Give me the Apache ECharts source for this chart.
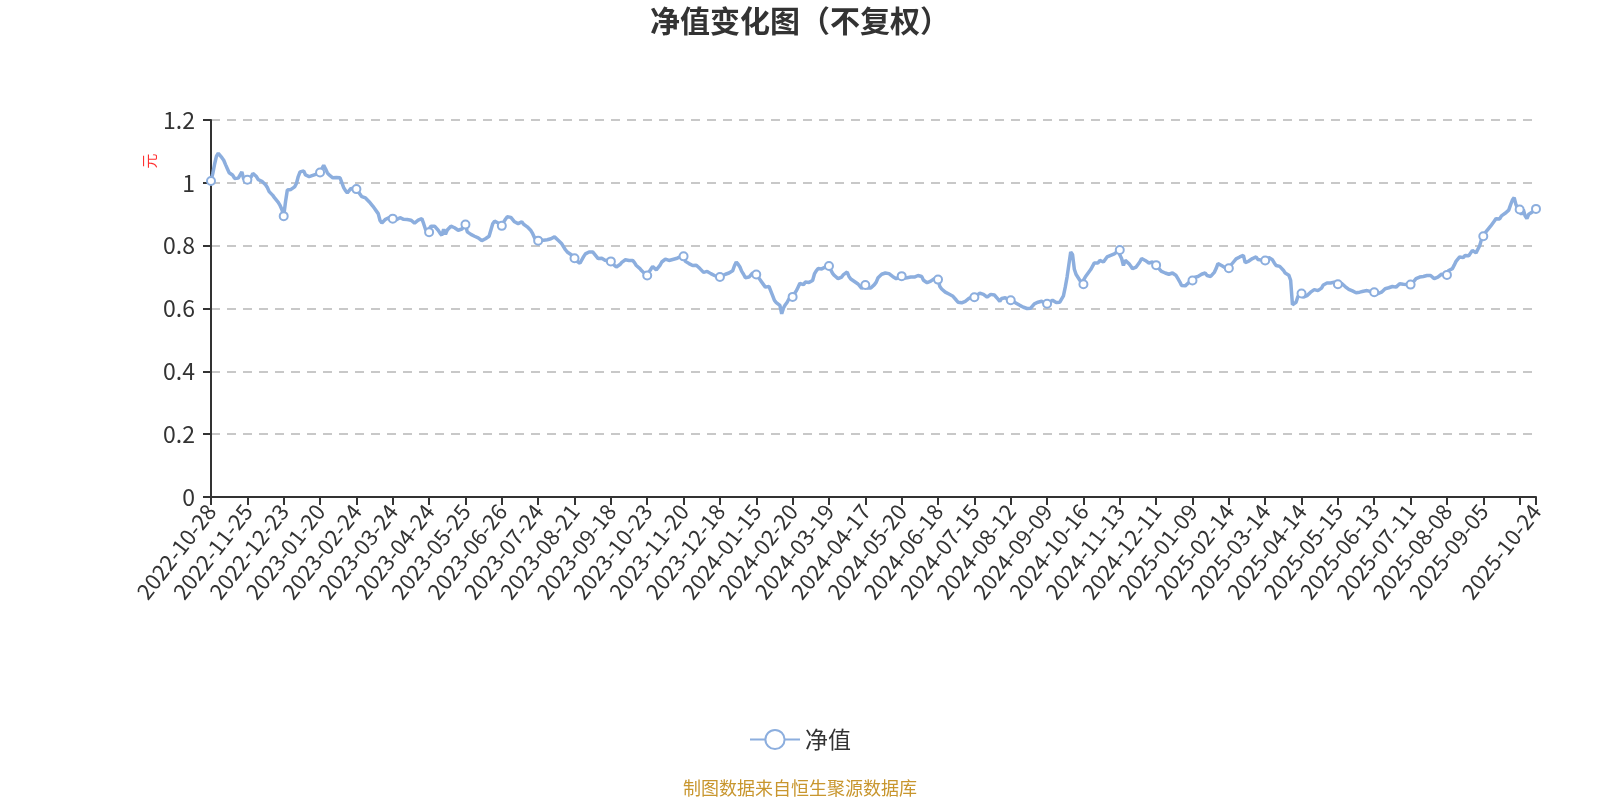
<!DOCTYPE html>
<html>
<head>
<meta charset="utf-8">
<title>净值变化图（不复权）</title>
<script src="https://cdn.jsdelivr.net/npm/echarts@6/dist/echarts.min.js"></script>
<style>
html, body { margin: 0; padding: 0; background: #fff; }
#main { width: 1600px; height: 800px; }
</style>
</head>
<body>
<div id="main"></div>
<script>
var myChart = echarts.init(document.getElementById('main'));

// trading calendar: weekdays between first and last day, minus exchange holidays,
// plus the period-end dates the fund also published a value for
var firstDay = '2022-10-28';
var lastDay = '2025-10-24';
var holidays = [
    '2023-01-02', '2023-01-23', '2023-01-24', '2023-01-25', '2023-01-26', '2023-01-27',
    '2023-04-05', '2023-05-01', '2023-05-02', '2023-05-03', '2023-06-22', '2023-06-23',
    '2023-09-29', '2023-10-02', '2023-10-03', '2023-10-04', '2023-10-05', '2023-10-06',
    '2024-01-01', '2024-02-09', '2024-02-12', '2024-02-13', '2024-02-14', '2024-02-15',
    '2024-02-16', '2024-04-04', '2024-04-05', '2024-05-01', '2024-05-02', '2024-05-03',
    '2024-06-10', '2024-09-16', '2024-09-17', '2024-10-01', '2024-10-02', '2024-10-03',
    '2024-10-04', '2024-10-07',
    '2025-01-01', '2025-01-28', '2025-01-29', '2025-01-30', '2025-01-31', '2025-02-03',
    '2025-02-04', '2025-04-04', '2025-05-01', '2025-05-02', '2025-05-05', '2025-06-02',
    '2025-10-01', '2025-10-02', '2025-10-03', '2025-10-06', '2025-10-07', '2025-10-08'
];
var extraDays = ['2022-12-31', '2023-09-30', '2023-12-31', '2024-03-31', '2024-06-30'];

// 单位净值（元）
var navValues = [
    1.006, 1.030, 1.060, 1.085, 1.094, 1.090, 1.080, 1.072, 1.058, 1.045,
    1.032, 1.028, 1.024, 1.014, 1.008, 1.015, 1.020, 1.035, 1.012, 1.010,
    1.010, 1.012, 1.018, 1.030, 1.036, 1.020, 1.010, 1.008, 1.005, 1.000,
    0.994, 0.985, 0.972, 0.966, 0.960, 0.952, 0.945, 0.938, 0.928, 0.915,
    0.894, 0.940, 0.977, 0.978, 0.979, 0.982, 0.987, 0.998, 1.020, 1.035,
    1.040, 1.038, 1.025, 1.022, 1.020, 1.019, 1.024, 1.030, 1.028, 1.031,
    1.033, 1.045, 1.056, 1.045, 1.032, 1.025, 1.019, 1.016, 1.014, 1.017,
    1.019, 1.016, 1.012, 0.985, 0.975, 0.968, 0.972, 0.982, 0.980, 0.978,
    0.980, 0.972, 0.966, 0.956, 0.950, 0.952, 0.947, 0.940, 0.934, 0.926,
    0.918, 0.910, 0.902, 0.880, 0.872, 0.878, 0.884, 0.887, 0.889, 0.887,
    0.886, 0.884, 0.883, 0.886, 0.889, 0.891, 0.884, 0.879, 0.883, 0.884,
    0.881, 0.876, 0.872, 0.876, 0.881, 0.884, 0.886, 0.870, 0.852, 0.845,
    0.843, 0.862, 0.865, 0.862, 0.856, 0.849, 0.840, 0.833, 0.852, 0.836,
    0.850, 0.856, 0.862, 0.860, 0.857, 0.852, 0.849, 0.850, 0.853, 0.860,
    0.867, 0.844, 0.838, 0.836, 0.833, 0.830, 0.828, 0.825, 0.822, 0.816,
    0.812, 0.822, 0.828, 0.830, 0.850, 0.870, 0.878, 0.883, 0.872, 0.866,
    0.863, 0.875, 0.884, 0.892, 0.897, 0.890, 0.883, 0.876, 0.873, 0.870,
    0.873, 0.876, 0.868, 0.865, 0.860, 0.855, 0.848, 0.838, 0.825, 0.816,
    0.816, 0.818, 0.819, 0.817, 0.817, 0.819, 0.820, 0.822, 0.825, 0.828,
    0.822, 0.817, 0.811, 0.806, 0.796, 0.787, 0.780, 0.776, 0.772, 0.765,
    0.760, 0.752, 0.748, 0.744, 0.740, 0.765, 0.774, 0.778, 0.780, 0.782,
    0.780, 0.774, 0.766, 0.759, 0.762, 0.760, 0.755, 0.753, 0.759, 0.754,
    0.750, 0.742, 0.736, 0.732, 0.736, 0.740, 0.747, 0.751, 0.755, 0.756,
    0.753, 0.753, 0.753, 0.746, 0.737, 0.732, 0.727, 0.720, 0.715, 0.709,
    0.705, 0.716, 0.725, 0.734, 0.728, 0.723, 0.730, 0.737, 0.748, 0.753,
    0.757, 0.759, 0.753, 0.755, 0.756, 0.757, 0.759, 0.761, 0.764, 0.765,
    0.766, 0.750, 0.746, 0.743, 0.740, 0.737, 0.740, 0.738, 0.734, 0.727,
    0.721, 0.715, 0.713, 0.718, 0.715, 0.711, 0.708, 0.705, 0.703, 0.700,
    0.700, 0.703, 0.705, 0.709, 0.711, 0.713, 0.708, 0.720, 0.736, 0.748,
    0.741, 0.732, 0.718, 0.709, 0.698, 0.695, 0.700, 0.704, 0.713, 0.710,
    0.708, 0.700, 0.692, 0.684, 0.676, 0.668, 0.673, 0.670, 0.666, 0.641,
    0.626, 0.619, 0.614, 0.610, 0.583, 0.602, 0.612, 0.620, 0.631, 0.634,
    0.637, 0.647, 0.656, 0.668, 0.680, 0.674, 0.676, 0.684, 0.684, 0.683,
    0.686, 0.689, 0.710, 0.720, 0.727, 0.727, 0.726, 0.730, 0.732, 0.733,
    0.735, 0.723, 0.712, 0.705, 0.699, 0.695, 0.697, 0.700, 0.708, 0.713,
    0.716, 0.702, 0.694, 0.689, 0.686, 0.684, 0.678, 0.671, 0.664, 0.666,
    0.675, 0.665, 0.663, 0.665, 0.668, 0.676, 0.684, 0.698, 0.704, 0.709,
    0.711, 0.713, 0.712, 0.711, 0.706, 0.702, 0.698, 0.695, 0.698, 0.701,
    0.703, 0.696, 0.695, 0.698, 0.699, 0.700, 0.700, 0.700, 0.703, 0.705,
    0.704, 0.702, 0.690, 0.684, 0.682, 0.681, 0.687, 0.690, 0.695, 0.693,
    0.692, 0.670, 0.662, 0.657, 0.652, 0.647, 0.646, 0.645, 0.640, 0.636,
    0.627, 0.620, 0.617, 0.618, 0.620, 0.623, 0.626, 0.632, 0.638, 0.637,
    0.636, 0.641, 0.646, 0.649, 0.647, 0.645, 0.640, 0.636, 0.642, 0.645,
    0.641, 0.643, 0.645, 0.630, 0.623, 0.632, 0.636, 0.634, 0.630, 0.627,
    0.626, 0.624, 0.620, 0.617, 0.613, 0.610, 0.606, 0.604, 0.601, 0.600,
    0.599, 0.601, 0.606, 0.615, 0.618, 0.620, 0.622, 0.623, 0.619, 0.616,
    0.615, 0.620, 0.624, 0.626, 0.621, 0.619, 0.617, 0.620, 0.626, 0.640,
    0.668, 0.700, 0.740, 0.780, 0.772, 0.725, 0.708, 0.705, 0.690, 0.680,
    0.677, 0.700, 0.708, 0.716, 0.724, 0.730, 0.745, 0.751, 0.745, 0.753,
    0.750, 0.748, 0.756, 0.764, 0.766, 0.769, 0.772, 0.774, 0.779, 0.783,
    0.786, 0.759, 0.737, 0.753, 0.748, 0.743, 0.735, 0.727, 0.730, 0.732,
    0.740, 0.748, 0.759, 0.756, 0.753, 0.749, 0.745, 0.747, 0.748, 0.742,
    0.738, 0.730, 0.727, 0.718, 0.716, 0.713, 0.711, 0.709, 0.711, 0.713,
    0.709, 0.705, 0.695, 0.685, 0.673, 0.668, 0.672, 0.677, 0.683, 0.687,
    0.689, 0.699, 0.701, 0.702, 0.706, 0.709, 0.712, 0.713, 0.705, 0.700,
    0.702, 0.705, 0.715, 0.727, 0.743, 0.740, 0.737, 0.733, 0.730, 0.727,
    0.728, 0.737, 0.744, 0.750, 0.758, 0.760, 0.764, 0.766, 0.769, 0.746,
    0.748, 0.751, 0.755, 0.759, 0.762, 0.764, 0.756, 0.755, 0.754, 0.753,
    0.753, 0.759, 0.762, 0.758, 0.755, 0.745, 0.737, 0.735, 0.734, 0.728,
    0.722, 0.713, 0.708, 0.706, 0.690, 0.612, 0.606, 0.620, 0.638, 0.645,
    0.648, 0.636, 0.638, 0.641, 0.646, 0.652, 0.657, 0.660, 0.658, 0.657,
    0.661, 0.665, 0.675, 0.679, 0.681, 0.680, 0.681, 0.687, 0.684, 0.678,
    0.677, 0.678, 0.680, 0.674, 0.670, 0.666, 0.661, 0.657, 0.656, 0.655,
    0.650, 0.647, 0.652, 0.654, 0.655, 0.656, 0.657, 0.656, 0.654, 0.652,
    0.652, 0.649, 0.647, 0.645, 0.652, 0.657, 0.663, 0.668, 0.666, 0.668,
    0.670, 0.669, 0.668, 0.674, 0.679, 0.678, 0.677, 0.676, 0.676, 0.676,
    0.676, 0.681, 0.688, 0.695, 0.698, 0.700, 0.701, 0.702, 0.704, 0.705,
    0.708, 0.705, 0.700, 0.695, 0.691, 0.700, 0.705, 0.709, 0.708, 0.707,
    0.707, 0.721, 0.724, 0.727, 0.738, 0.750, 0.757, 0.764, 0.763, 0.762,
    0.769, 0.764, 0.768, 0.774, 0.785, 0.781, 0.777, 0.782, 0.800, 0.820,
    0.830, 0.840, 0.848, 0.855, 0.862, 0.870, 0.878, 0.886, 0.883, 0.885,
    0.895, 0.899, 0.903, 0.908, 0.913, 0.930, 0.945, 0.953, 0.930, 0.918,
    0.915, 0.900, 0.915, 0.895, 0.886, 0.900, 0.897, 0.907, 0.912, 0.917
];

function pad(n) {
    return n < 10 ? '0' + n : '' + n;
}
function toUTC(s) {
    var p = s.split('-');
    return Date.UTC(+p[0], +p[1] - 1, +p[2]);
}
function buildDays() {
    var out = [];
    var t = toUTC(firstDay);
    var end = toUTC(lastDay);
    while (t <= end) {
        var d = new Date(t);
        var s = d.getUTCFullYear() + '-' + pad(d.getUTCMonth() + 1) + '-' + pad(d.getUTCDate());
        var wd = d.getUTCDay();
        var open = wd !== 0 && wd !== 6 && holidays.indexOf(s) < 0;
        if (open || extraDays.indexOf(s) >= 0) {
            out.push(s);
        }
        t += 86400000;
    }
    return out;
}
var dates = buildDays();
var lastIndex = dates.length - 1;
var labelStep = 20;

var option = {
    backgroundColor: '#fff',
    textStyle: {
        fontFamily: '"Noto Sans CJK SC", "Noto Sans", sans-serif'
    },
    title: [
        {
            text: '净值变化图（不复权）',
            left: 'center',
            top: 1,
            textStyle: {
                fontSize: 30,
                fontWeight: 'bold',
                color: '#333'
            }
        },
        {
            text: '制图数据来自恒生聚源数据库',
            left: 'center',
            top: 774,
            textStyle: {
                fontSize: 18,
                fontWeight: 'normal',
                color: '#C8962E'
            }
        }
    ],
    legend: {
        left: 'center',
        top: 723,
        itemWidth: 50,
        itemHeight: 24,
        textStyle: {
            fontSize: 23,
            color: '#333'
        },
        data: ['净值']
    },
    grid: {
        left: 211,
        right: 64,
        top: 120,
        bottom: 303
    },
    graphic: [
        {
            // y axis unit
            type: 'text',
            x: 149,
            y: 161,
            rotation: Math.PI / 2,
            style: {
                text: '元',
                fill: '#FF3030',
                fontSize: 15,
                fontFamily: '"Noto Sans CJK SC", sans-serif',
                align: 'center',
                verticalAlign: 'middle'
            }
        }
    ],
    xAxis: {
        type: 'category',
        boundaryGap: false,
        data: dates,
        axisLine: {
            lineStyle: { color: '#333', width: 2 }
        },
        axisTick: {
            length: 8,
            lineStyle: { color: '#333', width: 2 }
        },
        axisLabel: {
            interval: function (index) {
                return index % labelStep === 0 || index === lastIndex;
            },
            formatter: function (value, index) {
                if (index < lastIndex && lastIndex - index < labelStep) {
                    return '';
                }
                return value;
            },
            rotate: 52,
            margin: 10,
            fontSize: 22,
            color: '#333'
        },
        splitLine: { show: false }
    },
    yAxis: {
        type: 'value',
        min: 0,
        max: 1.2,
        interval: 0.2,
        axisLine: {
            show: true,
            lineStyle: { color: '#333', width: 2 }
        },
        axisTick: {
            show: true,
            length: 8,
            lineStyle: { color: '#333', width: 2 }
        },
        axisLabel: {
            margin: 16,
            fontSize: 23,
            color: '#333'
        },
        splitLine: {
            lineStyle: {
                color: '#C8C8C8',
                width: 2,
                type: [9, 7]
            }
        }
    },
    series: [
        {
            name: '净值',
            type: 'line',
            data: navValues,
            showSymbol: true,
            showAllSymbol: 'auto',
            symbol: 'emptyCircle',
            symbolSize: 8,
            animation: false,
            lineStyle: {
                color: '#8CAEDE',
                width: 3.5
            },
            itemStyle: {
                color: '#8CAEDE',
                borderWidth: 2
            }
        }
    ]
};
myChart.setOption(option);
</script>
</body>
</html>
